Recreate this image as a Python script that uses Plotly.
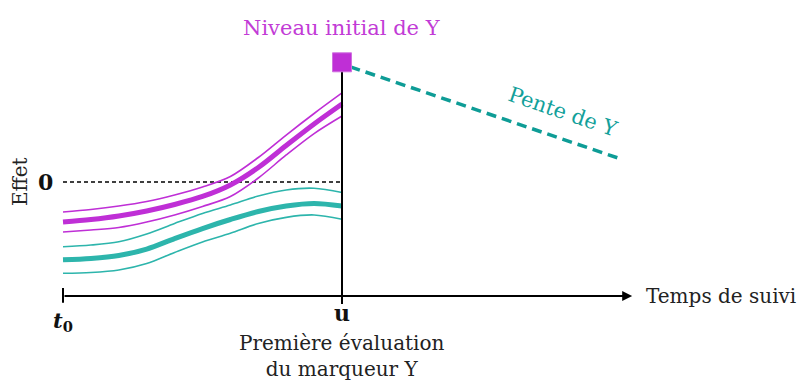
import plotly.graph_objects as go

# time points (t0 = 0, u = 1)
t_pts = [0.0, 0.1, 0.2, 0.3, 0.4, 0.5, 0.6, 0.7, 0.8, 0.9, 1.0]

# magenta curve (effect up to u) with band
mag_mid = [-0.351, -0.329, -0.298, -0.254, -0.197, -0.127, -0.026, 0.127, 0.320, 0.509, 0.684]
mag_up = [-0.263, -0.241, -0.211, -0.171, -0.114, -0.044, 0.048, 0.215, 0.412, 0.601, 0.781]
mag_lo = [-0.439, -0.421, -0.399, -0.351, -0.289, -0.215, -0.127, 0.035, 0.237, 0.425, 0.579]

# teal curve with band
teal_mid = [-0.682, -0.671, -0.645, -0.588, -0.496, -0.408, -0.329, -0.259, -0.211, -0.189, -0.211]
teal_up = [-0.568, -0.553, -0.524, -0.456, -0.364, -0.276, -0.202, -0.123, -0.070, -0.055, -0.092]
teal_lo = [-0.801, -0.794, -0.772, -0.715, -0.618, -0.526, -0.450, -0.364, -0.310, -0.289, -0.327]

# initial level and slope of Y
init_x, init_y = 1.0, 1.05
slope_x = [1.03, 1.99]
slope_y = [1.01, 0.21]

axis_y = -1.0
axis_end = 2.04

MAG = "#BF2FD6"
TEAL = "#2DB5AC"
TEAL_D = "#0E9C96"
FONT = "DejaVu Serif"

fig = go.Figure()

def line(x, y, color, width, dash=None):
    fig.add_trace(go.Scatter(x=x, y=y, mode="lines",
                             line=dict(color=color, width=width, dash=dash, shape="spline", smoothing=0.9),
                             hoverinfo="skip", showlegend=False))

# zero reference line
fig.add_trace(go.Scatter(x=[0, 1], y=[0, 0], mode="lines", line=dict(color="black", width=1.3, dash="4px,3px"),
                         hoverinfo="skip", showlegend=False))

for y in (mag_up, mag_lo):
    line(t_pts, y, MAG, 1.6)
line(t_pts, mag_mid, MAG, 5)
for y in (teal_up, teal_lo):
    line(t_pts, y, TEAL, 1.6)
line(t_pts, teal_mid, TEAL, 5)

# vertical line at u
fig.add_trace(go.Scatter(x=[1, 1], y=[init_y, -1.07], mode="lines", line=dict(color="black", width=2),
                         hoverinfo="skip", showlegend=False))
# tick at t0
fig.add_trace(go.Scatter(x=[0, 0], y=[-0.93, -1.06], mode="lines", line=dict(color="black", width=2),
                         hoverinfo="skip", showlegend=False))
# slope line
fig.add_trace(go.Scatter(x=slope_x, y=slope_y, mode="lines", line=dict(color=TEAL_D, width=3.5, dash="10px,6px"),
                         hoverinfo="skip", showlegend=False))
# initial level marker
fig.add_trace(go.Scatter(x=[init_x], y=[init_y], mode="markers",
                         marker=dict(symbol="square", size=19, color=MAG, line=dict(color="#D070E0", width=1)),
                         hoverinfo="skip", showlegend=False))

# time axis with arrow
fig.add_annotation(x=axis_end, y=axis_y, ax=0, ay=axis_y, xref="x", yref="y", axref="x", ayref="y",
                   showarrow=True, arrowhead=2, arrowsize=1, arrowwidth=2, arrowcolor="black", text="")

ann = [
    dict(x=2.082, y=axis_y, text="Temps de suivi", xanchor="left", font=dict(size=20, color="#222")),
    dict(x=0, y=-1.228, text="<b><i>t</i><sub>0</sub></b>", font=dict(size=21, color="#111")),
    dict(x=1, y=-1.149, text="<b>u</b>", font=dict(size=22, color="#111")),
    dict(x=1, y=-1.53, text="Première évaluation<br>du marqueur Y", font=dict(size=20, color="#222")),
    dict(x=-0.154, y=0, text="Effet", textangle=-90, font=dict(size=20, color="#222")),
    dict(x=-0.061, y=0, text="<b>0</b>", font=dict(size=22, color="#111")),
    dict(x=1, y=1.351, text="Niveau initial de Y", font=dict(size=21, color="#C23BD6")),
    dict(x=1.792, y=0.61, text="Pente de Y", textangle=18.8, font=dict(size=21, color="#12A09A")),
]
for a in ann:
    fig.add_annotation(xref="x", yref="y", showarrow=False, **a)

fig.update_layout(
    width=806, height=380, margin=dict(l=0, r=0, t=0, b=0),
    plot_bgcolor="white", paper_bgcolor="white",
    font=dict(family=FONT),
    xaxis=dict(range=[-55 / 279, 751 / 279], visible=False, fixedrange=True),
    yaxis=dict(range=[-206 / 114, 174 / 114], visible=False, fixedrange=True),
)

fig.write_html("out.html")
